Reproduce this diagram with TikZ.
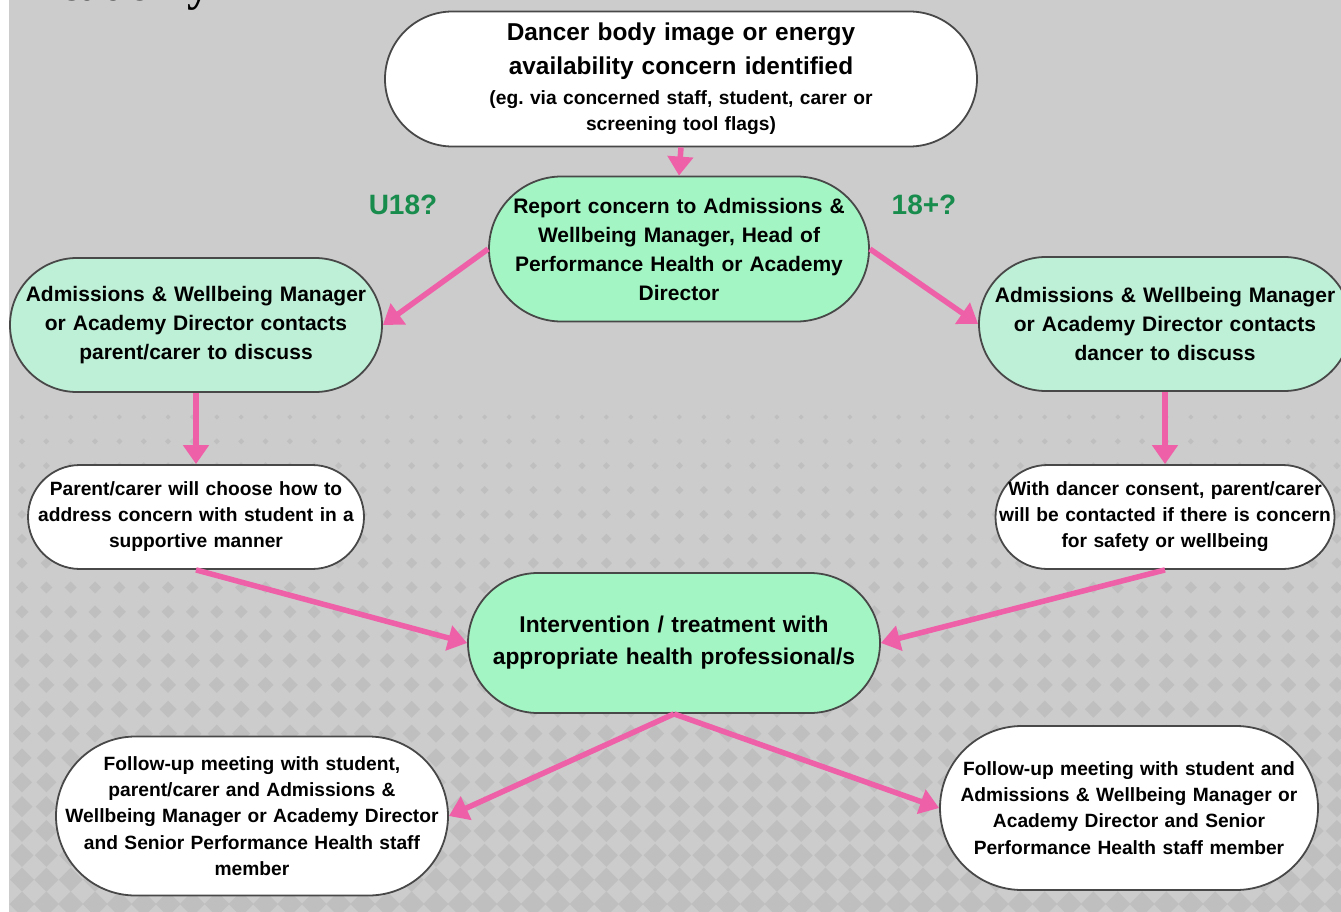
\documentclass[tikz,border=0pt]{standalone}
\usepackage{fontspec}
\setmainfont{Liberation Sans}
\newfontfamily\headserif{Liberation Serif}
\usetikzlibrary{arrows.meta}

\definecolor{bggray}{RGB}{204,204,204}
\definecolor{dotgray}{RGB}{191,191,191}
\definecolor{edgegray}{RGB}{72,72,72}
\definecolor{mintfill}{RGB}{163,246,196}
\definecolor{palefill}{RGB}{190,240,215}
\definecolor{flowpink}{RGB}{238,96,168}
\definecolor{askgreen}{RGB}{24,140,76}

\newcommand\notesize{\fontsize{19.2}{26}\selectfont\spaceskip=.3333em\xspaceskip=.3333em\relax}

\tikzset{
  pill/.style args={#1x#2}{draw=edgegray, line width=1.8pt, inner sep=0pt,
    minimum width=#1pt, minimum height=#2pt, text width=#1pt,
    rounded corners={0.5*#2pt}, align=center, font=\bfseries},
  whitepill/.style={pill=#1, fill=white},
  mintpill/.style={pill=#1, fill=mintfill},
  palepill/.style={pill=#1, fill=palefill},
  flow/.style={draw=flowpink, line width=5.5pt,
    -{Triangle[width=25pt,length=19pt]}},
  asklabel/.style={text=askgreen, font=\bfseries\fontsize{28}{28}\selectfont}
}

\begin{document}
\begin{tikzpicture}[x=1pt,y=-1pt]
  \useasboundingbox (0,0) rectangle (1341,912);

  % page background and cut-off heading
  \fill[bggray] (9,0) rectangle (1341,912);
  \node[anchor=base west, inner sep=0pt, font=\headserif\bfseries\fontsize{46}{46}\selectfont] (heading) at (26,0.8) {Academy};

  % diamond pattern: rows grow towards the bottom
  \foreach \j [evaluate=\j as \yy using 417+24.35*\j,
               evaluate=\j as \rr using 2.5+0.5*\j] in {0,...,20} {
    \foreach \i [evaluate=\i as \xx using 22+24.35*\i] in {0,...,54} {
      \fill[dotgray] (\xx,\yy-\rr) -- (\xx+\rr,\yy) -- (\xx,\yy+\rr) -- (\xx-\rr,\yy) -- cycle;
    }
  }
  \fill[white] (0,0) rectangle (9,912);

  % flow boxes
  \node[whitepill=592x135, font=\bfseries\fontsize{24.4}{34}\selectfont] (concern) at (681,79)
    {Dancer body image or energy\\ availability concern identified\\[-4pt]
     {\notesize (eg. via concerned staff, student, carer or}\\[-8pt]
     {\notesize screening tool flags)}};
  \node[mintpill=380x145, font=\bfseries\fontsize{21}{29}\selectfont] (report) at (679,249)
    {Report concern to Admissions \&\\ Wellbeing Manager, Head of\\ Performance Health or Academy\\ Director};
  \node[palepill=372x134, font=\bfseries\fontsize{21}{29}\selectfont] (parentcall) at (196,325)
    {Admissions \& Wellbeing Manager\\ or Academy Director contacts\\ parent/carer to discuss};
  \node[palepill=372x134, font=\bfseries\fontsize{21}{29}\selectfont] (dancercall) at (1165,324)
    {Admissions \& Wellbeing Manager\\ or Academy Director contacts\\ dancer to discuss};
  \node[whitepill=336x104, font=\bfseries\fontsize{19.2}{26}\selectfont] (parentstep) at (196,517)
    {Parent/carer will choose how to\\ address concern with student in a\\ supportive manner};
  \node[whitepill=339x104, font=\bfseries\fontsize{19.2}{26}\selectfont] (consentstep) at (1165,517)
    {With dancer consent, parent/carer\\ will be contacted if there is concern\\ for safety or wellbeing};
  \node[mintpill=412x140, font=\bfseries\fontsize{22.8}{32}\selectfont] (treatment) at (674,643)
    {Intervention / treatment with\\ appropriate health professional/s};
  \node[whitepill=392x159, font=\bfseries\fontsize{19.2}{26.2}\selectfont] (followyoung) at (252,816)
    {Follow-up meeting with student,\\ parent/carer and Admissions \&\\ Wellbeing Manager or Academy Director\\ and Senior Performance Health staff\\ member};
  \node[whitepill=378x164, font=\bfseries\fontsize{19.2}{26.2}\selectfont] (followadult) at (1129,808)
    {Follow-up meeting with student and\\ Admissions \& Wellbeing Manager or\\ Academy Director and Senior\\ Performance Health staff member};

  % age question labels
  \node[asklabel] (under18) at (403,205) {U18?};
  \node[asklabel] (over18) at (924,205) {18+?};

  % connectors
  \draw[flow] (concern.south) -- (report.north);
  \draw[flow] (report.west) -- (parentcall.east);
  \draw[flow] (report.east) -- (dancercall.west);
  \draw[flow] (parentcall.south) -- (parentstep.north);
  \draw[flow] (dancercall.south) -- (consentstep.north);
  \draw[flow] (parentstep.south) -- (treatment.west);
  \draw[flow] (consentstep.south) -- (treatment.east);
  \draw[flow] (treatment.south) -- (followyoung.east);
  \draw[flow] (treatment.south) -- (followadult.west);
\end{tikzpicture}
\end{document}
